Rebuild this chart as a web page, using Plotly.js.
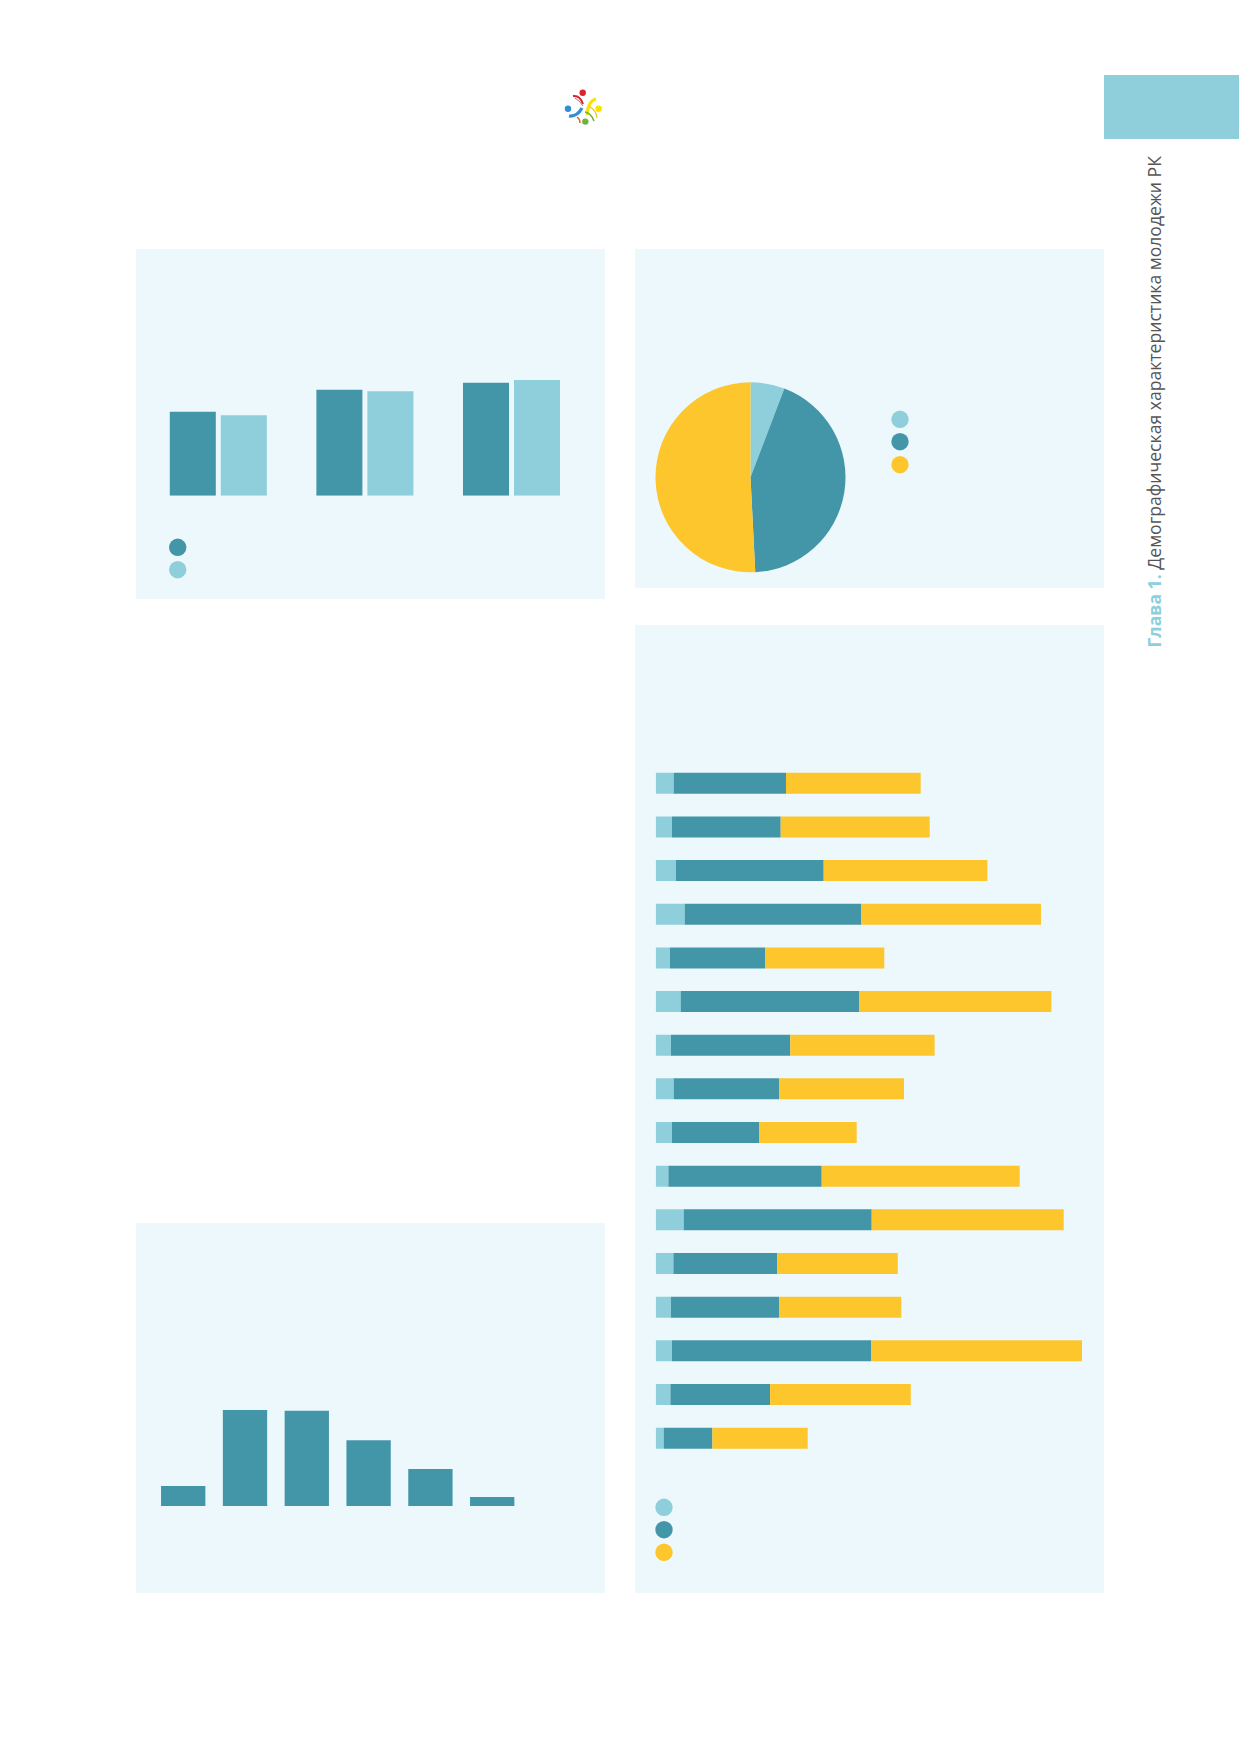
<!DOCTYPE html>
<html>
<head>
<meta charset="utf-8">
<script src="https://cdn.plot.ly/plotly-3.0.1.min.js"></script>
<style>
html,body{margin:0;padding:0;background:#ffffff;}
#chart{width:1239px;height:1752px;}
</style>
</head>
<body>
<div id="chart"></div>
<script>
// ---------------- DATA ----------------
const groupCats = ['Группа 1', 'Группа 2', 'Группа 3'];
const groupSeriesDark = [84, 106, 113];
const groupSeriesLight = [80.4, 104.4, 115.7];

const pieLabels = ['Доля 1', 'Доля 2', 'Доля 3'];
const pieValues = [5.8, 43.4, 50.8];

const regionCats = ['Регион 1','Регион 2','Регион 3','Регион 4','Регион 5','Регион 6','Регион 7','Регион 8',
                    'Регион 9','Регион 10','Регион 11','Регион 12','Регион 13','Регион 14','Регион 15','Регион 16'];
const regionLight  = [18, 16.3, 20.3, 29, 14.3, 25, 15.3, 18, 16.3, 12.7, 28, 17.7, 15.3, 16.3, 14.7, 8];
const regionDark   = [112.3, 108.7, 147.7, 176.3, 95, 178.7, 119.3, 105.3, 87, 153.3, 188, 103.7, 108, 199, 99.7, 48.7];
const regionYellow = [134.7, 149, 163.7, 180, 119.3, 192, 144.3, 125, 97.7, 198, 192, 120.7, 122.3, 211, 140.7, 95.3];

const ageCats = ['Группа A', 'Группа B', 'Группа C', 'Группа D', 'Группа E', 'Группа F'];
const ageValues = [20, 96, 95.3, 65.7, 37, 9];

// ---------------- STYLE ----------------
const W = 1239, H = 1752;
const X = p => p / W;
const Y = p => 1 - p / H;
const DARK = '#4396a8';
const LIGHT = '#8ecfdb';
const YELLOW = '#fdc62d';
const PANEL = '#edf8fd';

function rect(x0, y0, x1, y1, color, layer) {
  return {type:'rect', xref:'paper', yref:'paper', x0:X(x0), x1:X(x1), y0:Y(y1), y1:Y(y0),
          fillcolor:color, line:{width:0}, layer: layer || 'below'};
}
function dot(cx, cy, r, color) {
  return {type:'circle', xref:'paper', yref:'paper', x0:X(cx-r), x1:X(cx+r), y0:Y(cy+r), y1:Y(cy-r),
          fillcolor:color, line:{width:0}, layer:'above'};
}
const P = (x, y) => X(x) + ',' + Y(y);
function curve(a, c, b, color, w) {
  return {type:'path', xref:'paper', yref:'paper',
          path:'M ' + P(a[0],a[1]) + ' Q ' + P(c[0],c[1]) + ' ' + P(b[0],b[1]),
          line:{color:color, width:w}, layer:'above'};
}

const shapes = [
  rect(136, 249, 605, 599, PANEL),
  rect(635, 249, 1104, 588, PANEL),
  rect(635, 625, 1104, 1593, PANEL),
  rect(136, 1223, 605, 1593, PANEL),
  rect(1104, 75, 1239, 139, '#8ecfdb'),
  // legend dots
  dot(177.7, 547.3, 8.7, DARK), dot(177.7, 569.7, 8.7, LIGHT),
  dot(900, 419.3, 8.7, LIGHT), dot(900, 441.7, 8.7, DARK), dot(900, 464.7, 8.7, YELLOW),
  dot(664, 1507.3, 8.7, LIGHT), dot(664, 1529.7, 8.7, DARK), dot(664, 1552.3, 8.7, YELLOW),
  // logo
  curve([573, 96], [580, 95], [583, 104], '#d7262e', 2),
  curve([575, 98], [580, 101], [583, 106], '#9a4a6a', 0.8),
  curve([596, 99], [588, 101], [587, 115], '#fde100', 3.2),
  curve([590, 107], [596, 110], [597, 118], '#e8c800', 1.2),
  curve([569, 116], [577, 117], [582, 108], '#2f8fd0', 3.2),
  curve([577, 117], [580, 119], [580, 123], '#e0612a', 1.5),
  curve([585, 112], [591, 113], [594, 121], '#6db33f', 1.6),
  dot(582.7, 92.7, 3.2, '#d7262e'),
  dot(598.7, 108.7, 3.2, '#fde100'),
  dot(568, 108.7, 3.2, '#2f8fd0'),
  dot(585.3, 121.6, 3.2, '#6db33f')
];

function ax(domain, range, extra) {
  return Object.assign({domain: domain, range: range, visible: false, showgrid:false, zeroline:false, fixedrange:true}, extra || {});
}

const traces = [
  {type:'bar', x:groupCats, y:groupSeriesDark, xaxis:'x', yaxis:'y', offset:-0.331, width:0.314,
   marker:{color:DARK, line:{width:0}}, hoverinfo:'skip', showlegend:false},
  {type:'bar', x:groupCats, y:groupSeriesLight, xaxis:'x', yaxis:'y', offset:0.017, width:0.314,
   marker:{color:LIGHT, line:{width:0}}, hoverinfo:'skip', showlegend:false},

  {type:'pie', labels:pieLabels, values:pieValues, sort:false, direction:'clockwise', rotation:0,
   textinfo:'none', hoverinfo:'skip', showlegend:false,
   marker:{colors:[LIGHT, DARK, YELLOW], line:{width:0}},
   domain:{x:[X(655.5), X(845.5)], y:[Y(572.3), Y(382.3)]}},

  {type:'bar', orientation:'h', y:regionCats, x:regionLight, base:regionLight.map(() => 0),
   xaxis:'x3', yaxis:'y3', width:0.481, marker:{color:LIGHT, line:{width:0}}, hoverinfo:'skip', showlegend:false},
  {type:'bar', orientation:'h', y:regionCats, x:regionDark, base:regionLight,
   xaxis:'x3', yaxis:'y3', width:0.481, marker:{color:DARK, line:{width:0}}, hoverinfo:'skip', showlegend:false},
  {type:'bar', orientation:'h', y:regionCats, x:regionYellow, base:regionLight.map((v, i) => v + regionDark[i]),
   xaxis:'x3', yaxis:'y3', width:0.481, marker:{color:YELLOW, line:{width:0}}, hoverinfo:'skip', showlegend:false},

  {type:'bar', x:ageCats, y:ageValues, xaxis:'x4', yaxis:'y4', width:0.717,
   marker:{color:DARK, line:{width:0}}, hoverinfo:'skip', showlegend:false}
];

const layout = {
  width: W, height: H,
  margin: {l:0, r:0, t:0, b:0, pad:0},
  paper_bgcolor: '#ffffff',
  plot_bgcolor: 'rgba(0,0,0,0)',
  barmode: 'overlay',
  showlegend: false,
  xaxis:  ax([X(145.0), X(584.8)], [-0.5, 2.5]),
  yaxis:  ax([Y(495.7), Y(255.7)], [0, 240]),
  xaxis3: ax([X(655.7), X(1095.7)], [0, 440]),
  yaxis3: ax([Y(1460), Y(761.4)], [15.5, -0.5]),
  xaxis4: ax([X(152.3), X(523.1)], [-0.5, 5.5]),
  yaxis4: ax([Y(1506), Y(1306)], [0, 200]),
  shapes: shapes,
  annotations: [{
    xref:'paper', yref:'paper', x:X(1153.5), y:Y(402), showarrow:false,
    xanchor:'center', yanchor:'middle', textangle:-90,
    text:'<b><span style="color:#8ecfdc">Глава 1.</span></b> Демографическая характеристика молодежи РК',
    font:{family:'Open Sans', size:17.6, color:'#555555'}
  }]
};

Plotly.newPlot('chart', traces, layout, {staticPlot:true, displayModeBar:false});
</script>
</body>
</html>
